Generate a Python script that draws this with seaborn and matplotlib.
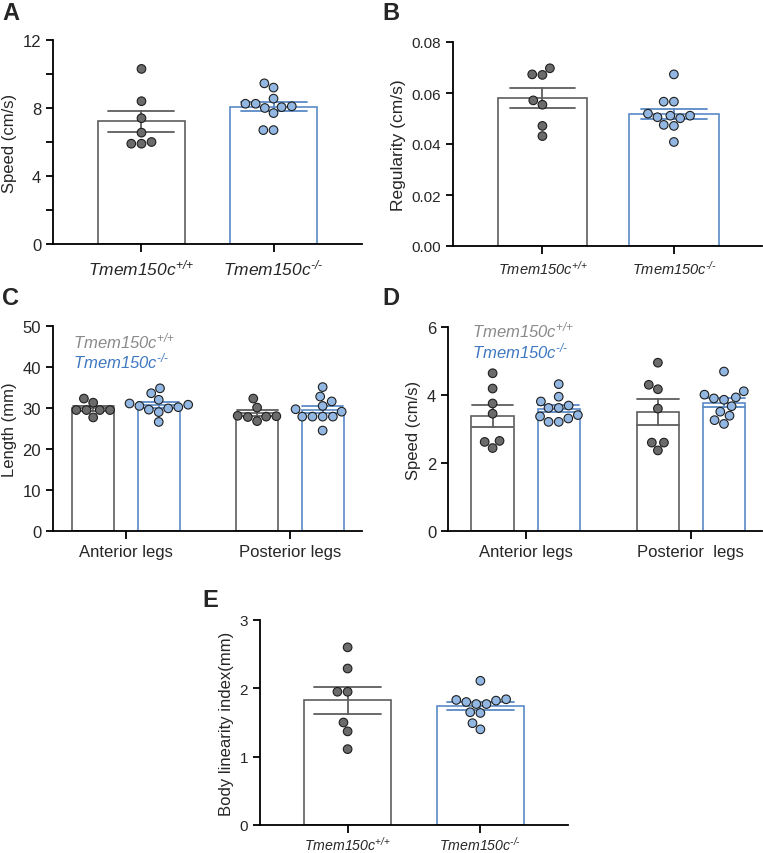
import matplotlib
matplotlib.use("Agg")
import matplotlib.pyplot as plt
import seaborn as sns
import pandas as pd

WT = r"Tmem150c$^{\text{+/+}}$"
KO = r"Tmem150c$^{\text{-/-}}$"
genotypes = [WT, KO]

# panel A - speed (cm/s)
a_wt = [10.3, 8.4, 7.4, 6.55, 6.0, 5.9, 5.9]
a_ko = [9.45, 9.2, 8.55, 8.25, 8.25, 8.1, 8.05, 8.0, 7.7, 6.7, 6.7]
# panel B - regularity
b_wt = [0.0697, 0.0673, 0.0671, 0.0571, 0.0554, 0.0471, 0.0431]
b_ko = [0.0673, 0.0566, 0.0566, 0.0519, 0.0511, 0.0511, 0.0505, 0.0501, 0.0475, 0.0471, 0.0408]
# panel C - length (mm)
c_legs = ["Anterior legs", "Posterior legs"]
c_ant_wt = [32.3, 31.3, 29.5, 29.5, 29.5, 29.5, 27.7]
c_ant_ko = [34.8, 33.6, 32.0, 31.1, 30.8, 30.5, 30.2, 29.9, 29.6, 29.0, 26.6]
c_post_wt = [32.3, 30.1, 28.1, 28.0, 27.9, 27.8, 26.8]
c_post_ko = [35.1, 32.8, 31.6, 30.5, 29.7, 29.1, 27.9, 27.9, 27.9, 27.9, 24.5]
# panel D - speed per leg (cm/s)
d_legs = ["Anterior legs", "Posterior  legs"]
d_ant_wt = [4.64, 4.19, 3.75, 3.45, 2.65, 2.62, 2.44]
d_ant_ko = [4.32, 3.95, 3.81, 3.69, 3.62, 3.62, 3.41, 3.37, 3.31, 3.21, 3.21]
d_post_wt = [4.95, 4.30, 4.17, 3.60, 2.60, 2.60, 2.37]
d_post_ko = [4.69, 4.11, 4.01, 3.93, 3.90, 3.86, 3.67, 3.51, 3.39, 3.26, 3.15]
# panel E - body linearity index (mm)
e_wt = [2.60, 2.29, 1.95, 1.95, 1.50, 1.37, 1.11]
e_ko = [2.11, 1.84, 1.83, 1.82, 1.80, 1.77, 1.77, 1.65, 1.64, 1.49, 1.40]

BAR_COLORS = ["#5e5e5e", "#5a8ac6"]
DOT_COLORS = ["#6b6b6b", "#93b7e3"]
TEXT_COLORS = ["#8a8a8a", "#3f78c0"]

sns.set_style("ticks")
plt.rcParams["font.family"] = ["Liberation Sans", "DejaVu Sans"]
plt.rcParams["mathtext.fontset"] = "custom"
plt.rcParams["mathtext.rm"] = "Liberation Sans:italic"
plt.rcParams["mathtext.it"] = "Liberation Sans:italic"
plt.rcParams["mathtext.bf"] = "Liberation Sans:bold"


def two_groups(wt, ko):
    return pd.DataFrame({"geno": [WT] * len(wt) + [KO] * len(ko), "val": list(wt) + list(ko)})


def four_groups(legs, ant_wt, ant_ko, post_wt, post_ko):
    rows = []
    for leg, vals, g in [(legs[0], ant_wt, WT), (legs[0], ant_ko, KO),
                         (legs[1], post_wt, WT), (legs[1], post_ko, KO)]:
        for v in vals:
            rows.append({"leg": leg, "geno": g, "val": v})
    return pd.DataFrame(rows)


def style_axis(ax, ylim, yticks, ylabel, tick_fs, xtick_fs, label_fs, minor=None, italic_x=False, xpad=3.5):
    ax.set_ylim(*ylim)
    ax.set_yticks(yticks)
    if minor is not None:
        ax.set_yticks(minor, minor=True)
    ax.set_ylabel(ylabel, fontsize=label_fs)
    ax.set_xlabel("")
    sns.despine(ax=ax)
    for s in ["left", "bottom"]:
        ax.spines[s].set_linewidth(1.3)
        ax.spines[s].set_color("black")
    ax.tick_params(axis="both", which="both", width=1.3, length=5, color="black")
    ax.tick_params(axis="y", labelsize=tick_fs)
    ax.tick_params(axis="x", labelsize=xtick_fs, length=6, pad=xpad)
    if italic_x:
        for lab in ax.get_xticklabels():
            lab.set_fontstyle("italic")


def simple_panel(ax, df, width, xlim):
    sns.barplot(data=df, x="geno", y="val", hue="geno", order=genotypes, hue_order=genotypes,
                palette=BAR_COLORS, fill=False, width=width, errorbar="se", capsize=0.5,
                err_kws={"linewidth": 1.3}, linewidth=1.2, legend=False, ax=ax)
    sns.swarmplot(data=df, x="geno", y="val", hue="geno", order=genotypes, hue_order=genotypes,
                  palette=DOT_COLORS, size=6.2, edgecolor="#1e1e1e", linewidth=0.8,
                  legend=False, ax=ax)
    ax.set_xlim(*xlim)


def grouped_panel(ax, df, legs, xlim):
    sns.barplot(data=df, x="leg", y="val", hue="geno", order=legs, hue_order=genotypes,
                palette=BAR_COLORS, fill=False, width=0.8, gap=0.36, errorbar="se", capsize=0.5,
                err_kws={"linewidth": 1.3}, linewidth=1.2, legend=False, ax=ax)
    sns.swarmplot(data=df, x="leg", y="val", hue="geno", order=legs, hue_order=genotypes,
                  palette=DOT_COLORS, size=6.2, edgecolor="#1e1e1e", linewidth=0.8,
                  dodge=True, legend=False, ax=ax)
    ax.set_xlim(*xlim)


W, H = 763, 854
fig = plt.figure(figsize=(W / 100, H / 100), dpi=100)


def axes_px(left, right, top, bottom):
    return fig.add_axes([left / W, 1 - bottom / H, (right - left) / W, (bottom - top) / H])


axA = axes_px(53, 362, 41, 245)
simple_panel(axA, two_groups(a_wt, a_ko), 0.66, (-0.67, 1.67))
style_axis(axA, (0, 12), [0, 4, 8, 12], "Speed (cm/s)", 12, 12.5, 12, minor=[2, 6, 10], italic_x=True)

axB = axes_px(453, 762, 43, 247)
simple_panel(axB, two_groups(b_wt, b_ko), 0.68, (-0.68, 1.67))
style_axis(axB, (0, 0.08), [0, 0.02, 0.04, 0.06, 0.08], "Regularity (cm/s)", 11, 10.5, 12.5, italic_x=True)

axC = axes_px(53, 362, 327, 532)
grouped_panel(axC, four_groups(c_legs, c_ant_wt, c_ant_ko, c_post_wt, c_post_ko), c_legs, (-0.445, 1.44))
style_axis(axC, (0, 50), [0, 10, 20, 30, 40, 50], "Length (mm)", 12, 12, 12)

axD = axes_px(448, 762, 328, 532)
grouped_panel(axD, four_groups(d_legs, d_ant_wt, d_ant_ko, d_post_wt, d_post_ko), d_legs, (-0.47, 1.43))
style_axis(axD, (0, 6), [0, 2, 4, 6], "Speed (cm/s)", 12, 12, 12)

axE = axes_px(260, 568, 621, 826)
simple_panel(axE, two_groups(e_wt, e_ko), 0.66, (-0.66, 1.66))
style_axis(axE, (0, 3), [0, 1, 2, 3], "Body linearity index(mm)", 11, 10.2, 12, italic_x=True, xpad=1)

# in-plot genotype labels for C and D
for ax, x, ys in [(axC, 0.065, (0.93, 0.83)), (axD, 0.076, (0.99, 0.885))]:
    for g, y, c in zip(genotypes, ys, TEXT_COLORS):
        ax.text(x, y, g, transform=ax.transAxes, color=c, fontsize=12, fontstyle="italic",
                va="center", ha="left")

for letter, x, y in [("A", 2, 2), ("B", 382, 2), ("C", 2, 287), ("D", 382, 287), ("E", 202, 589)]:
    fig.text(x / W, 1 - y / H, letter, fontsize=17, fontweight="bold", va="top", ha="left")

fig.savefig("out.png", dpi=100)
